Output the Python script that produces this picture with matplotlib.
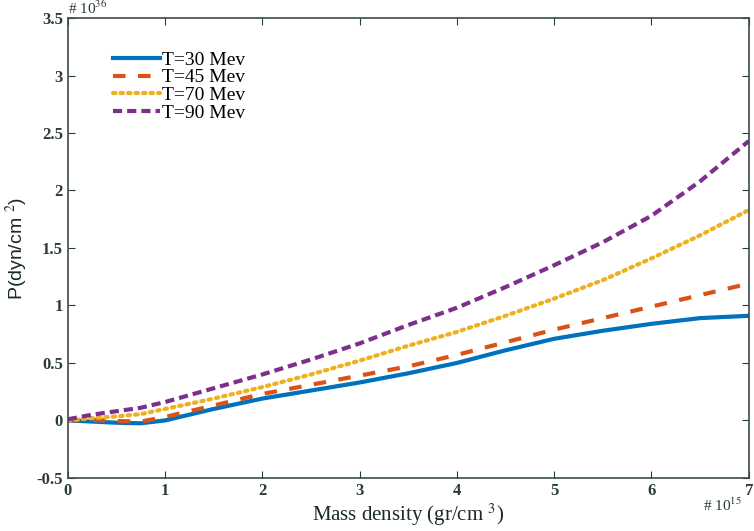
import numpy as np
import matplotlib.pyplot as plt

plt.rcParams['font.family'] = ['Liberation Serif', 'DejaVu Serif']
plt.rcParams['mathtext.fontset'] = 'stix'

# mass density (x 1e15 gr/cm^3)
rho = [0, 0.25, 0.5, 0.75, 1, 1.25, 1.5, 2, 2.5, 3, 3.5, 4, 4.5, 5, 5.5, 6, 6.5, 7]

# pressure (x 1e36 dyn/cm^2)
p_30 = [0, -0.01, -0.02, -0.025, 0.0, 0.05, 0.1, 0.19, 0.26, 0.33, 0.41, 0.5, 0.61, 0.71, 0.78, 0.84, 0.89, 0.91]
p_45 = [0, 0.005, -0.005, -0.01, 0.03, 0.08, 0.13, 0.23, 0.31, 0.39, 0.47, 0.57, 0.68, 0.79, 0.89, 0.99, 1.09, 1.19]
p_70 = [0, 0.02, 0.035, 0.055, 0.1, 0.145, 0.19, 0.29, 0.40, 0.52, 0.65, 0.77, 0.91, 1.06, 1.22, 1.41, 1.61, 1.83]
p_90 = [0.01, 0.05, 0.08, 0.11, 0.16, 0.22, 0.28, 0.4, 0.53, 0.67, 0.83, 0.98, 1.16, 1.35, 1.55, 1.78, 2.08, 2.43]

labels = ['T=30 Mev', 'T=45 Mev', 'T=70 Mev', 'T=90 Mev']
colors = ['#0072BD', '#D95319', '#EDB120', '#7E2F8E']

fig = plt.figure(figsize=(7.54, 5.31), dpi=100)
ax = fig.add_axes([0.090, 0.100, 0.903, 0.866])

ax.plot(rho, p_30, '-', color=colors[0], lw=3, label=labels[0])
ax.plot(rho, p_45, color=colors[1], lw=3, dashes=(3, 3), label=labels[1])
ax.plot(rho, p_70, color=colors[2], lw=3, dashes=(0.6, 1.2), dash_capstyle='round', label=labels[2])
ax.plot(rho, p_90, color=colors[3], lw=3, dashes=(2.2, 1.2), label=labels[3])

ax.set_xlim(0, 7)
ax.set_ylim(-0.5, 3.5)
ax.set_xticks(range(0, 8))
ax.set_yticks(np.arange(-0.5, 3.51, 0.5))
ax.set_yticklabels(['-0.5', '0', '0.5', '1', '1.5', '2', '2.5', '3', '3.5'])
ax.tick_params(direction='in', top=True, right=True, length=5, labelsize=12, colors='#2a3a3a')
for lab in ax.get_xticklabels() + ax.get_yticklabels():
    lab.set_fontweight('bold')
for s in ax.spines.values():
    s.set_color('#3a4a4a')
    s.set_linewidth(1.2)

ax.set_xlabel('Mass density (gr/cm $^{3}$)', fontsize=15, color='#1a2a2a', labelpad=2)
ax.set_ylabel('P(dyn/cm $^{2}$)', fontsize=14, color='#1a2a2a', labelpad=5,
              family=['Liberation Sans', 'DejaVu Sans'])

ax.text(0.0, 1.002, '# 10$^{36}$', transform=ax.transAxes, fontsize=11, color='#2a3a3a', va='bottom', ha='left')
ax.text(0.99, -0.04, '# 10$^{15}$', transform=ax.transAxes, fontsize=11, color='#2a3a3a', va='top', ha='right')

ax.legend(loc='upper left', bbox_to_anchor=(0.055, 0.945), frameon=False, fontsize=14,
          handlelength=2.4, handletextpad=0.1, labelspacing=0.0, borderaxespad=0)

fig.savefig('out.png', dpi=100)
